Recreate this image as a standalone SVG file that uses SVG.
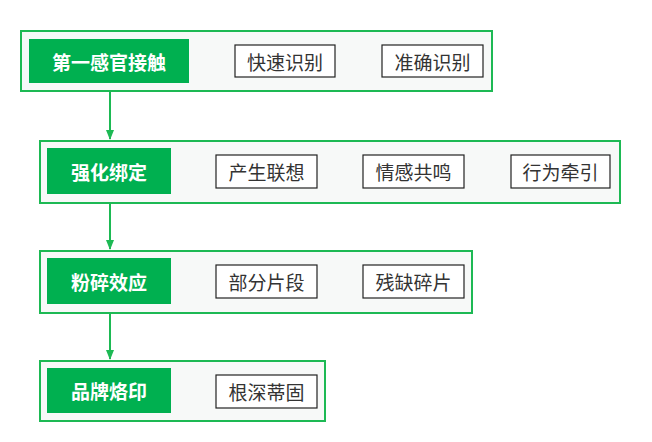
<svg xmlns="http://www.w3.org/2000/svg" width="652" height="442" viewBox="0 0 652 442">
<style>
.o{fill:#f7f9f8;stroke:#1db954;stroke-width:2}
.l{fill:#00b050}
.lt{fill:#fff;font-family:"Noto Sans CJK SC",sans-serif;font-weight:bold;font-size:19px;text-anchor:middle;dominant-baseline:central}
.b{fill:#fff;stroke:#222;stroke-width:1.2}
.bt{fill:#333;font-family:"Noto Sans CJK SC",sans-serif;font-size:19px;text-anchor:middle;dominant-baseline:central}
.c{stroke:#1db954;stroke-width:2;fill:none}
</style>
<defs><marker id="a" markerWidth="10" markerHeight="8" refX="9" refY="4" orient="auto" markerUnits="userSpaceOnUse"><path d="M0,0L10,4L0,8Z" fill="#1db954"/></marker></defs>
<rect width="652" height="442" fill="#fff"/>
<g id="connectors">
<path class="c" d="M110,83V139" marker-end="url(#a)"/>
<path class="c" d="M110,194V249" marker-end="url(#a)"/>
<path class="c" d="M110,304V359" marker-end="url(#a)"/>
</g>
<g id="n1"><rect class="o" x="21" y="31" width="471" height="60"/><rect class="l" x="29" y="39" width="160" height="44"/><text class="lt" x="109" y="61">第一感官接触</text>
<rect class="b" x="235" y="45" width="100" height="32"/><text class="bt" x="285" y="61">快速识别</text>
<rect class="b" x="382" y="45" width="101" height="32"/><text class="bt" x="432.5" y="61">准确识别</text></g>
<g id="n2"><rect class="o" x="40" y="141" width="580" height="62"/><rect class="l" x="47" y="148" width="124" height="46"/><text class="lt" x="109" y="171">强化绑定</text>
<rect class="b" x="216" y="155" width="101" height="33"/><text class="bt" x="266.5" y="171.5">产生联想</text>
<rect class="b" x="363" y="155" width="101" height="33"/><text class="bt" x="413.5" y="171.5">情感共鸣</text>
<rect class="b" x="511" y="155" width="99" height="33"/><text class="bt" x="560.5" y="171.5">行为牵引</text></g>
<g id="n3"><rect class="o" x="40" y="251" width="432" height="62"/><rect class="l" x="47" y="258" width="124" height="46"/><text class="lt" x="109" y="281">粉碎效应</text>
<rect class="b" x="216" y="265" width="101" height="33"/><text class="bt" x="266.5" y="281.5">部分片段</text>
<rect class="b" x="363" y="265" width="101" height="33"/><text class="bt" x="413.5" y="281.5">残缺碎片</text></g>
<g id="n4"><rect class="o" x="40" y="361" width="285" height="60"/><rect class="l" x="47" y="368" width="124" height="45"/><text class="lt" x="109" y="390">品牌烙印</text>
<rect class="b" x="216" y="375" width="101" height="33"/><text class="bt" x="266.5" y="391.5">根深蒂固</text></g>
</svg>
